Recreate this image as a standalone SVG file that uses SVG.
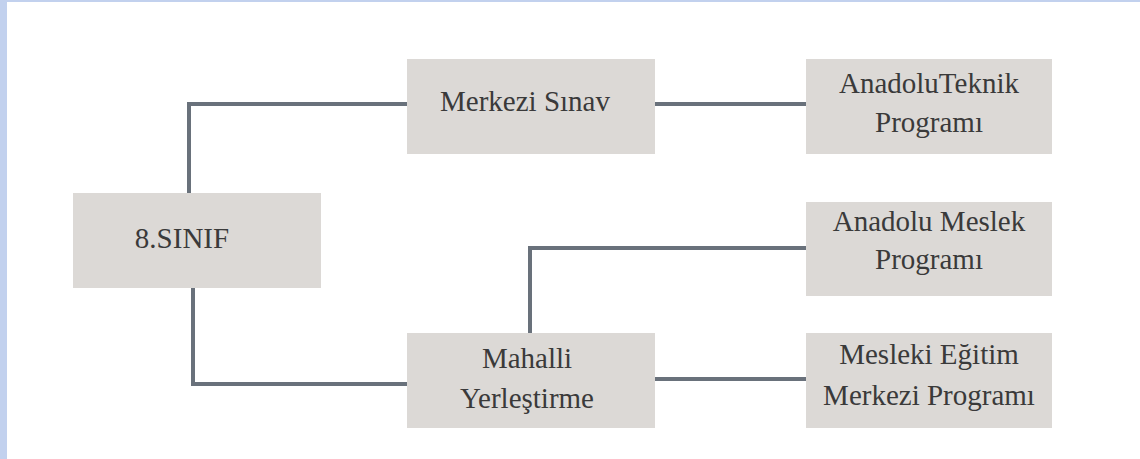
<svg xmlns="http://www.w3.org/2000/svg" width="1140" height="459" viewBox="0 0 1140 459">
<style>
.box{fill:#dcd9d6}
.t{font-family:'Liberation Serif','Times New Roman',serif;font-size:29px;fill:#3a3a3a;text-anchor:middle}
.c{fill:none;stroke:#69717b;stroke-width:4;stroke-linejoin:miter}
</style>
<rect x="0" y="0" width="1140" height="459" fill="#ffffff"/>
<rect x="0" y="0" width="7" height="459" fill="#c2d1ee"/>
<rect x="0" y="0" width="1140" height="2" fill="#c2d1ee"/>
<g id="connectors">
<path class="c" d="M189 193 V104 H407"/>
<path class="c" d="M655 104 H806"/>
<path class="c" d="M193 288 V384 H407"/>
<path class="c" d="M655 379 H806"/>
<path class="c" d="M530 333 V248 H806"/>
</g>
<g id="n-sinif"><rect class="box" x="73" y="193" width="248" height="95"/><text class="t" x="182" y="248">8.SINIF</text></g>
<g id="n-merkezi"><rect class="box" x="407" y="59" width="248" height="95"/><text class="t" x="525" y="111">Merkezi Sınav</text></g>
<g id="n-teknik"><rect class="box" x="806" y="59" width="246" height="95"/><text class="t" x="929" y="93">AnadoluTeknik</text><text class="t" x="929" y="132">Programı</text></g>
<g id="n-meslek"><rect class="box" x="806" y="202" width="246" height="94"/><text class="t" x="929" y="231">Anadolu Meslek</text><text class="t" x="929" y="269">Programı</text></g>
<g id="n-mahalli"><rect class="box" x="407" y="333" width="248" height="95"/><text class="t" x="527" y="368">Mahalli</text><text class="t" x="527" y="408">Yerleştirme</text></g>
<g id="n-mesleki"><rect class="box" x="806" y="333" width="246" height="95"/><text class="t" x="929" y="364">Mesleki Eğitim</text><text class="t" x="929" y="405">Merkezi Programı</text></g>
</svg>
